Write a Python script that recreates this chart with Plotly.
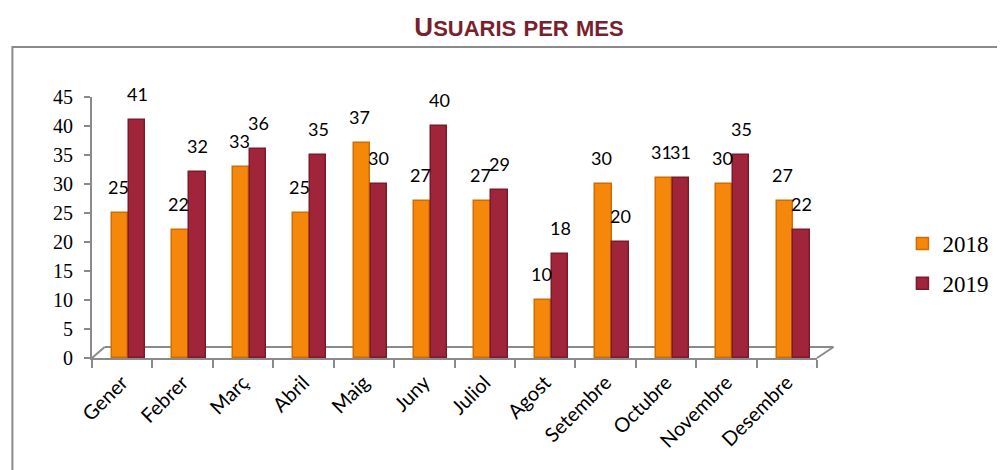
import plotly.graph_objects as go

months = ["Gener", "Febrer", "Març", "Abril", "Maig", "Juny", "Juliol",
          "Agost", "Setembre", "Octubre", "Novembre", "Desembre"]
users_2018 = [25, 22, 33, 25, 37, 27, 27, 10, 30, 31, 30, 27]
users_2019 = [41, 32, 36, 35, 30, 40, 29, 18, 20, 31, 35, 22]
y_ticks = [0, 5, 10, 15, 20, 25, 30, 35, 40, 45]

OFF = 8                 # page body margin of the written html
W, H = 1005 - OFF, 470 - OFF
L, R = 92 - OFF, 839 - OFF      # plot area x (figure pixels)
T, B = 97 - OFF, 358 - OFF      # plot area y (figure pixels)


def px_x(p):
    """screen x pixel of the reference -> paper coordinate"""
    return (p - OFF - L) / (R - L)


def px_y(p):
    """screen y pixel of the reference -> paper coordinate"""
    return (B - (p - OFF)) / (B - T)


C18 = "#F5870A"
C19 = "#A0253A"
SERIF = "'Liberation Serif', 'DejaVu Serif', serif"
SANS = "Lato, 'Open Sans', sans-serif"

fig = go.Figure()
fig.add_trace(go.Bar(x=months, y=users_2018, name="2018",
                     marker=dict(color=C18, line=dict(color="#D06C02", width=1.5)),
                     width=0.27, offset=-0.17, legendgroup="a"))
fig.add_trace(go.Bar(x=months, y=users_2019, name="2019",
                     marker=dict(color=C19, line=dict(color="#7A1A2A", width=1.5)),
                     width=0.27, offset=0.11, legendgroup="b"))

label_font = dict(family=SANS, size=18, color="#000")
annotations = []
for m, v in zip(months, users_2018):
    annotations.append(dict(x=m, y=v, text=str(v), showarrow=False, xref="x", yref="y",
                            xanchor="center", yanchor="bottom", xshift=-4, yshift=13,
                            font=label_font))
for m, v in zip(months, users_2019):
    annotations.append(dict(x=m, y=v, text=str(v), showarrow=False, xref="x", yref="y",
                            xanchor="center", yanchor="bottom", xshift=15, yshift=13,
                            font=label_font))

gray = "#8A8A8A"
shapes = [
    # floor (3D base)
    dict(type="line", xref="paper", yref="paper", x0=px_x(92), y0=px_y(358), x1=px_x(105), y1=px_y(347),
         line=dict(color=gray, width=2)),
    dict(type="line", xref="paper", yref="paper", x0=px_x(105), y0=px_y(347), x1=px_x(856), y1=px_y(347),
         line=dict(color=gray, width=2), layer="below"),
    dict(type="line", xref="paper", yref="paper", x0=px_x(856), y0=px_y(347), x1=px_x(839), y1=px_y(358),
         line=dict(color=gray, width=2)),
    # outer chart border
    dict(type="rect", xref="paper", yref="paper", x0=px_x(10), y0=px_y(47), x1=px_x(1030), y1=px_y(500),
         line=dict(color=gray, width=2), fillcolor="rgba(0,0,0,0)"),
]

title_txt = ("U<span style='font-size:22px'>SUARIS</span> "
             "<span style='font-size:22px'>PER</span> "
             "<span style='font-size:22px'>MES</span>")

fig.update_layout(
    width=W, height=H,
    margin=dict(l=L, r=W - R, t=T, b=H - B, pad=0),
    paper_bgcolor="white", plot_bgcolor="white",
    barmode="overlay",
    title=dict(text="<b>" + title_txt + "</b>", x=(519 - OFF) / W, y=1 - (27 - OFF) / H,
               xanchor="center", yanchor="middle",
               font=dict(family="'Liberation Sans', Arial, sans-serif", size=26, color="#7B1F2E")),
    showlegend=True,
    legend=dict(x=px_x(927), y=px_y(222), xanchor="left", yanchor="top",
                font=dict(family=SERIF, size=23, color="#000"),
                tracegroupgap=7, itemwidth=30, bgcolor="rgba(0,0,0,0)"),
    annotations=annotations,
    shapes=shapes,
    bargap=0,
)

fig.update_xaxes(type="category", range=[-0.5, 11.5], showgrid=False, zeroline=False,
                 showline=True, linecolor=gray, linewidth=2,
                 ticks="outside", tickson="boundaries", ticklen=8, tickcolor=gray, tickwidth=2,
                 tickangle=-45, ticklabelstandoff=3,
                 tickfont=dict(family=SANS, size=20, color="#000"))
fig.update_yaxes(range=[0, 45], tickvals=y_ticks, showgrid=False, zeroline=False,
                 showline=True, linecolor=gray, linewidth=2,
                 ticks="outside", ticklen=6, tickcolor=gray, tickwidth=2,
                 ticklabelstandoff=7,
                 tickfont=dict(family=SERIF, size=20, color="#000"))

fig.write_html("out.html")
